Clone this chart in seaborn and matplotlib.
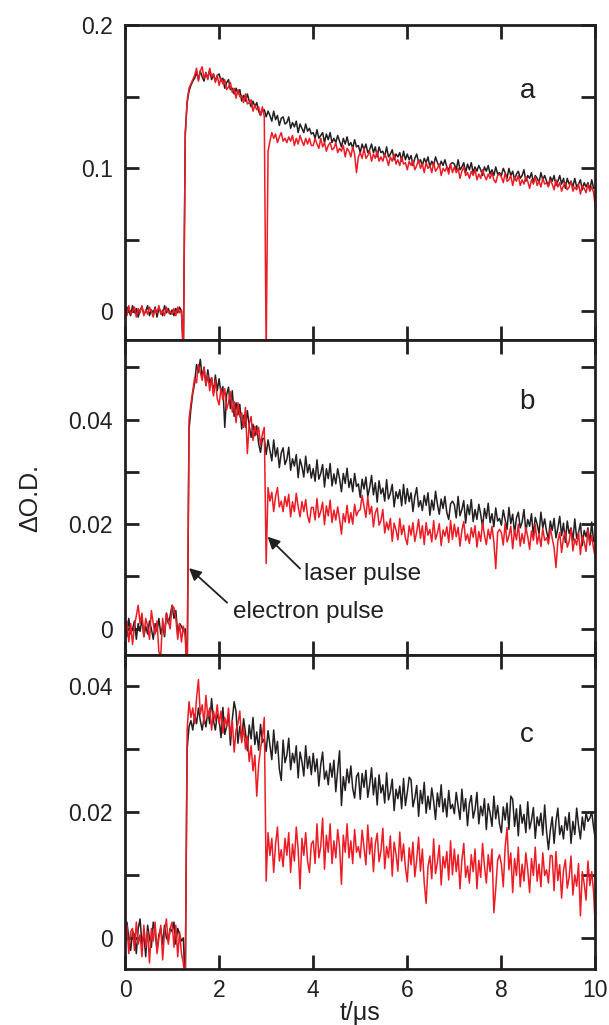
import matplotlib

matplotlib.use('Agg')
import numpy as np
import matplotlib.pyplot as plt
import seaborn as sns

dt = 0.04  # sampling step of the traces, in us

# panel a, values in units of 0.001 O.D. (one row = 1 us)
a_black = [
    -2, 3, 0, -3, 4, -1, 2, -4, 1, 3, -2, 0, 4, -3, 1, -1, 3, -4, 2, 0, -3, 4, -1, 2, -2,
    1, -3, 2, -1, 3, 0, -30, 125, 146, 154, 158, 161, 163, 167, 162, 168, 164, 161, 167, 163, 169, 162, 166, 161, 165,
    166, 161, 163, 156, 160, 162, 155, 156, 152, 156, 152, 155, 147, 151, 147, 152, 147, 143, 147, 143, 146, 140, 137, 141, 141,
    136, 140, 137, 133, 140, 134, 137, 130, 135, 136, 131, 132, 136, 128, 132, 129, 133, 125, 131, 128, 125, 131, 126, 128, 124,
    125, 121, 127, 121, 123, 125, 118, 124, 120, 125, 118, 121, 118, 123, 119, 115, 121, 117, 122, 116, 118, 114, 120, 115, 116,
    111, 117, 113, 117, 111, 113, 117, 111, 115, 108, 115, 111, 112, 108, 115, 108, 110, 113, 106, 110, 108, 111, 105, 112, 106,
    110, 106, 109, 102, 107, 110, 104, 106, 102, 107, 104, 108, 101, 105, 102, 108, 104, 101, 105, 102, 106, 101, 99, 103, 104,
    103, 99, 106, 99, 101, 104, 97, 103, 99, 104, 97, 101, 98, 102, 99, 95, 101, 98, 102, 96, 99, 95, 101, 96, 97,
    95, 100, 97, 93, 100, 95, 98, 92, 96, 98, 93, 95, 99, 91, 95, 93, 97, 90, 95, 93, 90, 97, 92, 95, 91,
    88, 94, 91, 95, 88, 91, 95, 89, 93, 86, 93, 89, 91, 87, 93, 87, 89, 92, 85, 90, 87, 90, 85, 92, 86, 87,
]
a_red = [
    1, -3, 4, -2, 0, 3, -4, 2, -1, 4, -3, 1, -2, 3, 0, -4, 2, -1, 4, -2, 1, -3, 3, -1, 0,
    -2, 2, -3, 3, -1, 1, -30, 122, 147, 156, 159, 162, 165, 170, 161, 168, 171, 163, 167, 162, 170, 164, 166, 160, 165,
    158, 163, 159, 162, 155, 157, 160, 153, 156, 149, 155, 150, 151, 146, 152, 145, 146, 148, 140, 144, 141, 143, 137, 143, 136,
    -30, 112, 119, 125, 121, 124, 118, 122, 125, 119, 121, 118, 122, 119, 123, 116, 121, 117, 123, 119, 116, 121, 117, 121, 116,
    116, 121, 117, 114, 121, 115, 118, 112, 116, 118, 113, 114, 118, 111, 114, 112, 116, 108, 114, 112, 108, 115, 110, 97, 108,
    111, 107, 114, 107, 109, 112, 105, 110, 107, 112, 105, 108, 105, 110, 107, 102, 108, 105, 110, 103, 106, 102, 108, 103, 104,
    99, 105, 102, 105, 99, 102, 106, 100, 103, 97, 104, 100, 102, 97, 104, 98, 100, 103, 95, 100, 98, 101, 96, 103, 97,
    101, 97, 100, 93, 98, 101, 95, 97, 93, 98, 95, 99, 92, 96, 93, 99, 95, 92, 96, 93, 97, 92, 90, 95, 96,
    94, 90, 97, 91, 92, 95, 88, 94, 91, 95, 88, 92, 89, 94, 91, 86, 92, 89, 94, 88, 91, 87, 93, 89, 90,
    87, 92, 89, 85, 92, 87, 90, 84, 88, 90, 85, 87, 91, 84, 87, 85, 89, 82, 88, 86, 83, 89, 84, 87, 83, 72,
]

# panel b, values in units of 0.0001 O.D.
b_black = [
    5, -15, 20, -10, 0, 15, -20, 10, -5, 20, -15, 5, -10, 15, 0, -20, 10, -5, 20, -10, 5, -15, 30, 10, 25,
    45, 20, 35, -10, 10, 5, -5, 0, -100, 380, 420, 450, 470, 505, 490, 515, 480, 500, 465, 495, 470, 480, 450, 485, 455,
    478, 450, 463, 385, 448, 462, 421, 455, 406, 432, 409, 429, 382, 408, 385, 417, 388, 366, 391, 369, 388, 354, 337, 363, 364,
    333, 361, 341, 321, 361, 329, 346, 308, 336, 346, 314, 324, 347, 303, 325, 311, 333, 289, 324, 310, 290, 330, 298, 314, 288,
    306, 282, 323, 286, 297, 314, 271, 306, 287, 316, 273, 296, 277, 306, 287, 262, 297, 278, 307, 270, 287, 262, 297, 272, 277,
    251, 286, 267, 290, 253, 270, 293, 256, 279, 242, 283, 258, 269, 244, 285, 248, 259, 276, 233, 262, 249, 266, 235, 276, 239,
    268, 243, 260, 224, 253, 270, 233, 245, 226, 255, 236, 260, 217, 246, 227, 263, 238, 219, 248, 230, 253, 222, 209, 239, 244,
    237, 212, 253, 216, 228, 245, 202, 237, 218, 247, 205, 228, 209, 238, 219, 194, 230, 211, 240, 203, 220, 195, 231, 206, 211,
    198, 227, 209, 190, 232, 201, 219, 182, 212, 223, 193, 204, 228, 185, 209, 196, 220, 177, 213, 200, 182, 223, 193, 210, 186,
    171, 206, 188, 211, 174, 192, 215, 178, 202, 165, 206, 182, 193, 168, 210, 173, 184, 202, 159, 188, 176, 193, 162, 204, 167, 170,
]
b_red = [
    0, 15, -25, 10, -30, 5, 25, 45, 10, 30, -15, 20, 5, -20, 35, 10, -10, 15, -45, -50, 20, -10, 30, 15, 0,
    45, 40, 20, -20, 10, -25, 5, -15, -100, 400, 430, 455, 480, 470, 505, 490, 475, 500, 465, 485, 455, 480, 445, 475, 440,
    428, 460, 438, 459, 419, 433, 453, 414, 434, 394, 432, 405, 413, 385, 423, 335, 392, 406, 360, 387, 371, 385, 351, 372, 385,
    125, 270, 244, 261, 224, 253, 270, 233, 244, 224, 253, 234, 257, 214, 243, 224, 259, 233, 214, 243, 224, 247, 216, 203, 232,
    232, 208, 249, 213, 224, 242, 199, 235, 216, 246, 203, 227, 208, 233, 210, 181, 220, 204, 236, 202, 222, 200, 238, 216, 225,
    228, 255, 234, 213, 252, 219, 234, 195, 222, 231, 198, 207, 228, 183, 204, 189, 211, 167, 202, 189, 170, 211, 180, 198, 173,
    161, 197, 179, 203, 167, 185, 209, 173, 197, 161, 203, 179, 190, 166, 207, 171, 183, 201, 159, 189, 177, 195, 165, 207, 171,
    200, 176, 194, 158, 188, 205, 169, 181, 163, 193, 175, 197, 156, 186, 167, 203, 179, 161, 190, 172, 196, 166, 115, 184, 190,
    184, 160, 202, 166, 178, 196, 153, 189, 170, 200, 158, 182, 163, 194, 176, 152, 187, 169, 199, 162, 181, 157, 192, 169, 174,
    162, 192, 174, 155, 117, 167, 184, 146, 175, 186, 156, 167, 191, 149, 172, 160, 184, 142, 178, 166, 148, 190, 160, 178, 153, 135,
]

# panel c, values in units of 0.0001 O.D.
c_black = [
    -15, 25, 0, -20, 10, 5, -25, 15, 30, -10, 5, -30, 20, 0, -15, 25, 10, -20, 5, 15, -10, 20, 0, -5, 15,
    10, 25, -10, 15, 5, -5, 0, -80, 300, 335, 345, 330, 355, 340, 365, 345, 330, 350, 335, 360, 340, 380, 345, 330, 355,
    347, 318, 366, 323, 336, 356, 306, 347, 375, 359, 309, 336, 314, 348, 326, 297, 338, 316, 350, 307, 327, 298, 339, 310, 316,
    296, 329, 306, 283, 330, 293, 312, 268, 250, 314, 278, 290, 317, 267, 293, 278, 305, 254, 295, 280, 257, 305, 269, 288, 259,
    293, 264, 284, 241, 275, 295, 252, 265, 243, 277, 255, 282, 232, 266, 297, 210, 256, 234, 268, 246, 273, 237, 222, 256, 262,
    220, 261, 239, 266, 223, 243, 270, 227, 254, 211, 259, 230, 243, 214, 262, 219, 232, 252, 202, 236, 221, 241, 205, 253, 210,
    231, 255, 251, 208, 222, 242, 193, 234, 213, 247, 198, 225, 204, 238, 217, 188, 230, 208, 243, 200, 221, 192, 234, 205, 212,
    197, 231, 210, 188, 236, 201, 221, 178, 213, 226, 190, 204, 231, 181, 209, 194, 221, 172, 213, 198, 177, 225, 189, 210, 181,
    167, 208, 187, 214, 172, 225, 220, 177, 205, 162, 211, 182, 196, 167, 216, 173, 187, 207, 158, 192, 178, 198, 163, 211, 169,
    140, 171, 192, 150, 185, 206, 164, 178, 157, 192, 171, 199, 150, 185, 164, 206, 178, 157, 192, 171, 199, 185, 190, 200, 175, 155,
]
c_red = [
    0, 20, -25, 10, 15, -20, 25, -10, 5, -30, 20, -15, 10, -40, 15, -5, 25, -25, 0, 20, -35, 10, 30, -10, 15,
    25, -15, 20, -30, 10, -25, -40, -80, 330, 375, 350, 365, 340, 380, 410, 355, 370, 340, 385, 350, 365, 330, 360, 345, 370,
    340, 360, 325, 350, 335, 365, 320, 345, 295, 330, 340, 360, 310, 335, 300, 320, 280, 305, 265, 290, 225, 275, 300, 320, 350,
    90, 167, 131, 158, 104, 149, 176, 122, 140, 113, 158, 131, 167, 104, 149, 122, 176, 140, 78, 158, 131, 167, 122, 104, 149,
    154, 118, 181, 127, 145, 190, 109, 163, 136, 181, 118, 154, 127, 172, 145, 85, 163, 136, 181, 127, 154, 118, 172, 136, 145,
    127, 171, 144, 116, 179, 133, 159, 105, 149, 166, 121, 138, 174, 110, 145, 127, 162, 98, 152, 133, 106, 168, 122, 149, 112,
    89, 143, 116, 152, 97, 124, 160, 106, 141, 87, 55, 113, 130, 94, 157, 102, 120, 147, 84, 129, 111, 137, 92, 154, 100,
    141, 105, 132, 78, 123, 150, 96, 114, 87, 132, 105, 141, 78, 123, 96, 150, 114, 87, 132, 105, 141, 40, 78, 123, 132,
    117, 81, 144, 175, 108, 135, 72, 126, 99, 144, 81, 117, 90, 135, 108, 72, 126, 99, 144, 90, 117, 81, 135, 99, 108,
    87, 131, 130, 75, 137, 91, 116, 63, 107, 124, 79, 96, 130, 68, 100, 82, 118, 35, 105, 86, 60, 122, 83, 105, 72, 10,
]

panels = [
    (a_black, a_red, 1e-3, (-0.02, 0.2), [0, 0.05, 0.1, 0.15, 0.2], ['0', '', '0.1', '', '0.2'], 'a', 0.154),
    (b_black, b_red, 1e-4, (-0.005, 0.0552), [0, 0.01, 0.02, 0.03, 0.04, 0.05], ['0', '', '0.02', '', '0.04', ''], 'b', 0.0433),
    (c_black, c_red, 1e-4, (-0.005, 0.0449), [0, 0.01, 0.02, 0.03, 0.04], ['0', '', '0.02', '', '0.04'], 'c', 0.0322),
]

BLACK = '#231f20'
RED = '#ed1c24'

sns.set_theme(style='ticks')
plt.rcParams['font.family'] = ['Liberation Sans', 'DejaVu Sans']
plt.rcParams['axes.edgecolor'] = BLACK
plt.rcParams['text.color'] = BLACK

fig = plt.figure(figsize=(6.09, 10.25), dpi=100)

# axes boxes in figure fraction: left, bottom, width, height
boxes = [(0.2053, 0.6683, 0.7725, 0.3070),
         (0.2053, 0.3610, 0.7725, 0.3073),
         (0.2053, 0.0543, 0.7725, 0.3066)]

axes = []
for (blk, red, unit, ylim, yt, ytl, letter, ly), box in zip(panels, boxes):
    ax = fig.add_axes(box)
    t_b = np.arange(len(blk)) * dt
    t_r = np.arange(len(red)) * dt
    sns.lineplot(x=t_b, y=np.array(blk) * unit, ax=ax, color=BLACK, linewidth=1.1,
                 estimator=None, sort=False)
    sns.lineplot(x=t_r, y=np.array(red) * unit, ax=ax, color=RED, linewidth=1.1,
                 estimator=None, sort=False)
    ax.set_xlim(0, 10)
    ax.set_ylim(*ylim)
    ax.set_xticks([0, 2, 4, 6, 8, 10])
    ax.set_yticks(yt)
    ax.set_yticklabels(ytl)
    ax.tick_params(direction='in', length=10, width=2, top=True, right=True,
                   labelsize=16.5, pad=9, colors=BLACK)
    for sp in ax.spines.values():
        sp.set_linewidth(2)
        sp.set_visible(True)
    ax.set_xlabel('')
    ax.set_ylabel('')
    ax.text(8.55, ly, letter, fontsize=20, ha='center', va='center')
    axes.append(ax)

axes[0].tick_params(labelbottom=False)
axes[1].tick_params(labelbottom=False)
axes[2].tick_params(axis='x', pad=7)

# arrows in panel b
arrow_kw = dict(arrowstyle='-|>', color=BLACK, lw=1.3, mutation_scale=18, shrinkA=0, shrinkB=0)
axes[1].annotate('', xy=(3.03, 0.0176), xytext=(3.72, 0.0115), arrowprops=arrow_kw)
axes[1].text(3.8, 0.0104, 'laser pulse', fontsize=17.5, ha='left', va='center')
axes[1].annotate('', xy=(1.36, 0.0116), xytext=(2.17, 0.005), arrowprops=arrow_kw)
axes[1].text(2.3, 0.0033, 'electron pulse', fontsize=17.5, ha='left', va='center')

fig.text(0.05, 1 - 498 / 1025, 'ΔO.D.', rotation=90, fontsize=18, ha='center', va='center')
fig.text(360 / 609, 1 - 1013 / 1025, 't/μs', fontsize=18, ha='center', va='center')

fig.savefig('out.png', dpi=100)
